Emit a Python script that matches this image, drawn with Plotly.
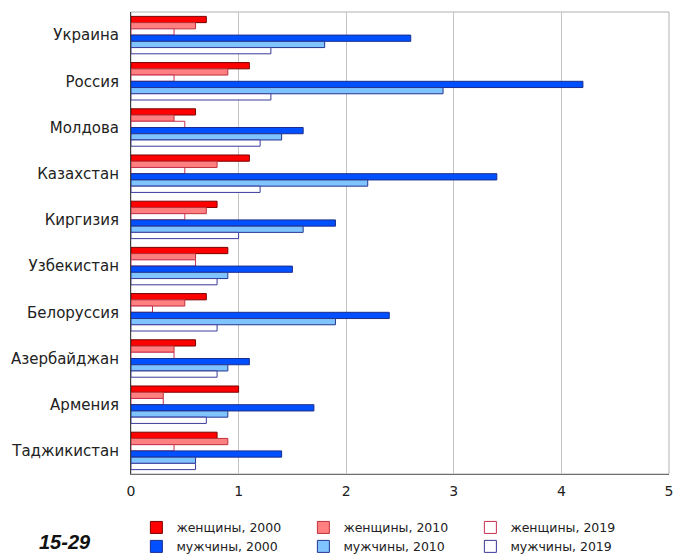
import plotly.graph_objects as go

countries = ["Украина", "Россия", "Молдова", "Казахстан", "Киргизия",
             "Узбекистан", "Белоруссия", "Азербайджан", "Армения", "Таджикистан"]

women_2000 = [0.7, 1.1, 0.6, 1.1, 0.8, 0.9, 0.7, 0.6, 1.0, 0.8]
women_2010 = [0.6, 0.9, 0.4, 0.8, 0.7, 0.6, 0.5, 0.4, 0.3, 0.9]
women_2019 = [0.4, 0.4, 0.5, 0.5, 0.5, 0.6, 0.2, 0.4, 0.3, 0.4]
men_2000 = [2.6, 4.2, 1.6, 3.4, 1.9, 1.5, 2.4, 1.1, 1.7, 1.4]
men_2010 = [1.8, 2.9, 1.4, 2.2, 1.6, 0.9, 1.9, 0.9, 0.9, 0.6]
men_2019 = [1.3, 1.3, 1.2, 1.2, 1.0, 0.8, 0.8, 0.8, 0.7, 0.6]

series = [
    ("женщины, 2000", women_2000, "#ff0000", "#7a0000", "legend"),
    ("женщины, 2010", women_2010, "#ff8080", "#c0303a", "legend"),
    ("женщины, 2019", women_2019, "#ffffff", "#c83050", "legend"),
    ("мужчины, 2000", men_2000, "#0050ff", "#1c2e8c", "legend2"),
    ("мужчины, 2010", men_2010, "#80c4ff", "#23358f", "legend2"),
    ("мужчины, 2019", men_2019, "#ffffff", "#3a3a9c", "legend2"),
]

fig = go.Figure()
for name, vals, fill, line, leg in series:
    fig.add_trace(go.Bar(
        name=name, y=countries, x=vals, orientation="h", legend=leg,
        marker=dict(color=fill, line=dict(color=line, width=1)),
    ))

legend_common = dict(orientation="h", xanchor="left", yanchor="top",
                     entrywidth=122, entrywidthmode="pixels",
                     font=dict(size=12.5, color="#222222"), itemwidth=30,
                     bgcolor="rgba(0,0,0,0)")

fig.update_layout(
    width=676, height=555,
    margin=dict(l=131, r=7, t=12, b=81, autoexpand=False),
    paper_bgcolor="white", plot_bgcolor="white",
    barmode="group", bargap=0.19, bargroupgap=0,
    font=dict(family="DejaVu Sans, Arial, sans-serif", color="#222222"),
    xaxis=dict(range=[0, 5], dtick=1, showgrid=True, gridcolor="#c4c4c4",
               gridwidth=1, zeroline=False, showline=True,
               linecolor="#707070", linewidth=1,
               tickfont=dict(size=14, color="#222222"), ticks="",
               ticklabelstandoff=4),
    yaxis=dict(autorange="reversed", showline=True, linecolor="#404040",
               linewidth=1, tickfont=dict(size=15, color="#222222"),
               ticks="", ticklabelstandoff=8, showgrid=False),
    legend=dict(x=0.01, y=-0.084, **legend_common),
    legend2=dict(x=0.01, y=-0.125, **legend_common),
    showlegend=True,
)

fig.add_shape(type="rect", xref="paper", yref="paper", x0=0, x1=1, y0=0, y1=1,
              line=dict(color="#b0b0b0", width=1), layer="below")

fig.add_annotation(text="<b><i>15-29</i></b>", xref="paper", yref="paper",
                   x=-0.175, y=-0.148, xanchor="left", yanchor="middle",
                   showarrow=False,
                   font=dict(size=20, color="#111111",
                             family="Liberation Sans, Arial, sans-serif"))

fig.write_html("out.html", config={"displayModeBar": False},
               post_script="document.body.style.margin='0';")
